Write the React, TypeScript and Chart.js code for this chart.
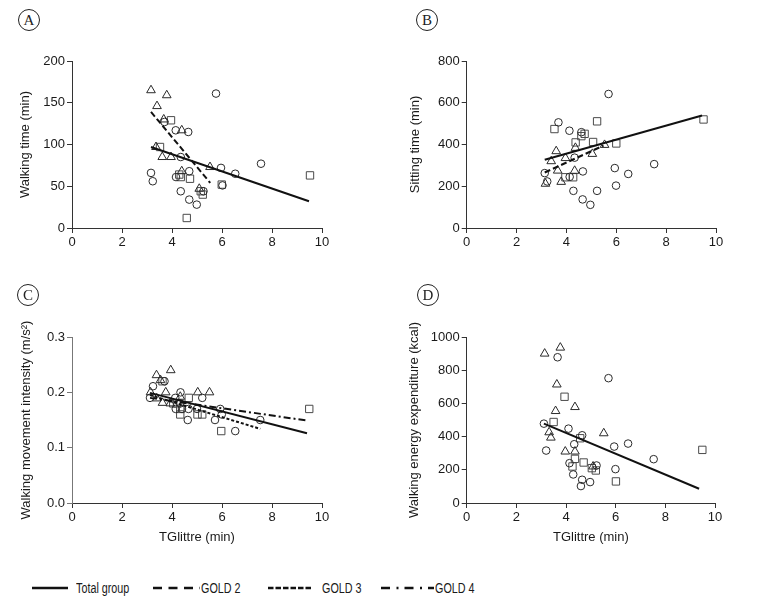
import React, { useEffect, useRef } from "react";
import { Chart, registerables } from "chart.js";

Chart.register(...registerables);

type Pt = [number, number];

// ---------- shared axis values ----------
const xTickValues = [0, 2, 4, 6, 8, 10];
const aTicks = [0, 50, 100, 150, 200];
const bTicks = [0, 200, 400, 600, 800];
const cTicks = [0, 0.1, 0.2, 0.3];
const dTicks = [0, 200, 400, 600, 800, 1000];

const panelLetters = ["A", "B", "C", "D"];
const legendLabels = ["Total group", "GOLD 2", "GOLD 3", "GOLD 4"];
const xAxisTitle = "TGlittre (min)";

// ---------- Panel A: walking time (min) ----------
const aTriangles: Pt[] = [[3.16, 165], [3.79, 159], [3.40, 146], [3.67, 130], [4.39, 117], [3.36, 97], [3.61, 85], [3.96, 85], [4.39, 68], [5.52, 73], [5.09, 47]];
const aCircles: Pt[] = [[3.16, 66], [3.23, 56], [3.70, 127], [4.15, 117], [4.65, 115], [4.35, 85], [4.16, 61], [4.69, 68], [4.35, 44], [4.69, 34], [4.99, 28], [5.76, 161], [5.96, 72], [6.53, 65], [7.56, 77], [6.02, 51], [5.26, 44]];
const aSquares: Pt[] = [[3.96, 129], [3.52, 97], [4.29, 64], [4.35, 61], [4.72, 59], [5.15, 44], [5.23, 40], [5.99, 52], [4.59, 12], [9.52, 63]];
const aTotalLine: Pt[] = [[3.16, 97], [9.48, 32]];
const aGold2Line: Pt[] = [[3.16, 139], [5.53, 54]];

// ---------- Panel B: sitting time (min) ----------
const bTriangles: Pt[] = [[3.16, 212], [3.39, 320], [3.59, 368], [3.65, 275], [3.79, 221], [3.96, 335], [4.36, 384], [4.33, 274], [5.04, 355], [5.53, 398]];
const bCircles: Pt[] = [[3.13, 263], [3.23, 223], [3.68, 506], [4.12, 466], [4.60, 459], [4.33, 337], [4.13, 245], [4.66, 271], [4.28, 178], [4.65, 137], [4.96, 111], [5.69, 642], [5.94, 287], [6.48, 259], [7.52, 306], [5.99, 203], [5.23, 178]];
const bSquares: Pt[] = [[3.52, 474], [5.23, 511], [4.73, 451], [4.60, 440], [4.37, 410], [5.07, 412], [6.00, 405], [3.96, 243], [4.27, 243], [9.50, 520]];
const bTotalLine: Pt[] = [[3.13, 327], [9.44, 539]];
const bGold2Line: Pt[] = [[3.13, 266], [5.49, 395]];

// ---------- Panel C: walking movement intensity (m/s²) ----------
const cTriangles: Pt[] = [[3.38, 0.231], [3.95, 0.240], [3.54, 0.222], [3.14, 0.200], [3.75, 0.200], [3.39, 0.189], [3.62, 0.181], [4.33, 0.192], [5.03, 0.200], [5.50, 0.200], [3.93, 0.180]];
const cCircles: Pt[] = [[3.24, 0.211], [3.12, 0.190], [3.70, 0.220], [4.34, 0.200], [4.13, 0.190], [4.15, 0.170], [4.66, 0.170], [4.63, 0.150], [5.21, 0.190], [5.00, 0.170], [5.93, 0.170], [5.99, 0.160], [5.72, 0.150], [6.53, 0.130], [7.53, 0.150], [4.33, 0.180], [4.40, 0.170]];
const cSquares: Pt[] = [[4.67, 0.190], [4.33, 0.170], [4.33, 0.160], [5.02, 0.160], [5.21, 0.160], [5.97, 0.130], [9.49, 0.170], [3.62, 0.220], [4.20, 0.180], [4.05, 0.180]];
const cTotalLine: Pt[] = [[3.12, 0.199], [9.40, 0.126]];
const cGold3Line: Pt[] = [[3.12, 0.195], [7.53, 0.134]];
const cGold4Line: Pt[] = [[3.12, 0.190], [9.40, 0.149]];

// ---------- Panel D: walking energy expenditure (kcal) ----------
const dTriangles: Pt[] = [[3.14, 900], [3.77, 936], [3.63, 714], [3.58, 554], [4.36, 578], [3.32, 426], [3.39, 394], [3.97, 310], [4.36, 310], [5.52, 420], [5.09, 220]];
const dCircles: Pt[] = [[3.11, 478], [3.20, 316], [3.66, 878], [4.10, 448], [4.65, 408], [4.33, 354], [4.14, 240], [4.29, 172], [4.65, 140], [4.60, 102], [4.97, 126], [5.71, 752], [5.94, 340], [6.50, 358], [7.53, 264], [5.99, 204], [5.23, 226]];
const dSquares: Pt[] = [[3.94, 640], [3.50, 488], [4.57, 390], [4.36, 266], [4.26, 220], [4.71, 244], [5.04, 210], [5.20, 196], [6.01, 130], [9.49, 320]];
const dTotalLine: Pt[] = [[3.11, 478], [9.36, 86]];

const FONT = "'Liberation Sans', Arial, Helvetica, sans-serif";
const DASH_GOLD2 = [6, 3];
const DASH_GOLD3 = [3, 2];
const DASH_GOLD4 = [7, 3, 2, 3];

interface LineSpec { pts: Pt[]; dash: number[] }
interface PanelProps {
  left: number; top: number; width: number; height: number;
  plotLeft: number; plotTop: number; plotRight: number; plotBottom: number;
  yTicks: number[]; yTitle: string; xTitle?: string; decimals?: number;
  yTitlePad: number; xTitlePad: number;
  triangles: Pt[]; circles: Pt[]; squares: Pt[];
  lines: LineSpec[];
  yAxisColor?: string;
}

function Panel(p: PanelProps) {
  const ref = useRef<HTMLCanvasElement>(null);
  useEffect(() => {
    const canvas = ref.current;
    if (!canvas) return;
    const toXY = (arr: Pt[]) => arr.map(([x, y]) => ({ x, y }));
    const pointSet = (arr: Pt[], style: string, radius: number, color: string) => ({
      data: toXY(arr),
      pointStyle: style,
      pointRadius: radius,
      pointHoverRadius: radius,
      pointBorderWidth: 1,
      pointBorderColor: color,
      pointBackgroundColor: "rgba(0,0,0,0)",
      showLine: false,
    });
    const lineSets = p.lines.map((l) => ({
      data: toXY(l.pts),
      showLine: true,
      borderColor: "#111",
      borderWidth: 2,
      borderDash: l.dash,
      pointRadius: 0,
      pointHoverRadius: 0,
      fill: false,
    }));
    const axisColor = "#333";
    const chart = new Chart(canvas, {
      type: "scatter",
      data: {
        datasets: [
          ...lineSets,
          pointSet(p.triangles, "triangle", 5, "#2a2a2a"),
          pointSet(p.circles, "circle", 3.8, "#2a2a2a"),
          pointSet(p.squares, "rect", 5.2, "#4a4a4a"),
        ] as any,
      },
      options: {
        animation: false,
        responsive: false,
        devicePixelRatio: 1,
        events: [],
        layout: {
          padding: {
            left: 0,
            top: p.plotTop - p.top,
            right: p.left + p.width - p.plotRight,
            bottom: 0,
          },
        },
        plugins: { legend: { display: false }, tooltip: { enabled: false } },
        scales: {
          x: {
            type: "linear",
            min: xTickValues[0],
            max: xTickValues[xTickValues.length - 1],
            afterBuildTicks: (s: any) => { s.ticks = xTickValues.map((v) => ({ value: v })); },
            afterFit: (s: any) => { s.height = p.top + p.height - p.plotBottom; },
            ticks: { padding: 2, color: "#1a1a1a", font: { family: FONT, size: 13 } },
            grid: { drawOnChartArea: false, drawTicks: true, tickLength: 5, color: axisColor, lineWidth: 1 },
            border: { display: true, color: axisColor, width: 1 },
            title: {
              display: !!p.xTitle,
              text: p.xTitle || "",
              color: "#1a1a1a",
              font: { family: FONT, size: 13 },
              padding: { top: 0, bottom: p.xTitlePad },
            },
          },
          y: {
            type: "linear",
            min: p.yTicks[0],
            max: p.yTicks[p.yTicks.length - 1],
            afterBuildTicks: (s: any) => { s.ticks = p.yTicks.map((v) => ({ value: v })); },
            afterFit: (s: any) => { s.width = p.plotLeft - p.left; },
            ticks: {
              padding: 2,
              color: "#1a1a1a",
              font: { family: FONT, size: 13 },
              callback: (v: any) => (p.decimals ? Number(v).toFixed(p.decimals) : String(v)),
            },
            grid: { drawOnChartArea: false, drawTicks: true, tickLength: 5, color: p.yAxisColor || axisColor, lineWidth: 1 },
            border: { display: true, color: p.yAxisColor || axisColor, width: 1 },
            title: {
              display: true,
              text: p.yTitle,
              color: "#1a1a1a",
              font: { family: FONT, size: 13 },
              padding: { top: p.yTitlePad, bottom: 0 },
            },
          },
        },
      } as any,
    });
    return () => chart.destroy();
  }, []);
  return (
    <canvas
      ref={ref}
      width={p.width}
      height={p.height}
      style={{ position: "absolute", left: p.left, top: p.top, width: p.width, height: p.height }}
    />
  );
}

function Badge({ letter, cx, cy }: { letter: string; cx: number; cy: number }) {
  return (
    <div
      style={{
        position: "absolute",
        left: cx - 11,
        top: cy - 11,
        width: 22,
        height: 22,
        boxSizing: "border-box",
        border: "1px solid #222",
        borderRadius: "50%",
        display: "flex",
        alignItems: "center",
        justifyContent: "center",
        font: "15px 'Liberation Serif', 'Times New Roman', serif",
        color: "#222",
        lineHeight: 1,
      }}
    >
      {letter}
    </div>
  );
}

export default function App() {
  const legendFont = "14px 'Liberation Sans', Arial, sans-serif";
  const legY = 587.5;
  const legendText = (text: string, x: number) => (
    <div
      key={text}
      style={{
        position: "absolute",
        left: x,
        top: legY - 8,
        height: 16,
        lineHeight: "16px",
        font: legendFont,
        color: "#1a1a1a",
        whiteSpace: "nowrap",
        transform: "scaleX(0.77)",
        transformOrigin: "left center",
      }}
    >
      {text}
    </div>
  );
  return (
    <div
      style={{
        position: "absolute",
        left: 0,
        top: 0,
        width: 769,
        height: 614,
        background: "#fff",
        overflow: "hidden",
      }}
    >
      <Panel
        left={0} top={40} width={345} height={240}
        plotLeft={72} plotTop={61} plotRight={322} plotBottom={228}
        yTicks={aTicks} yTitle="Walking time (min)" yTitlePad={18} xTitlePad={0}
        triangles={aTriangles} circles={aCircles} squares={aSquares}
        lines={[{ pts: aTotalLine, dash: [] }, { pts: aGold2Line, dash: DASH_GOLD2 }]}
      />
      <Panel
        left={380} top={40} width={365} height={240}
        plotLeft={466.7} plotTop={61} plotRight={716} plotBottom={228}
        yTicks={bTicks} yTitle="Sitting time (min)" yTitlePad={28} xTitlePad={0}
        triangles={bTriangles} circles={bCircles} squares={bSquares}
        lines={[{ pts: bTotalLine, dash: [] }, { pts: bGold2Line, dash: DASH_GOLD2 }]}
      />
      <Panel
        left={0} top={300} width={345} height={260}
        plotLeft={72} plotTop={337} plotRight={322} plotBottom={503}
        yTicks={cTicks} decimals={1} yTitle="Walking movement intensity (m/s²)" yTitlePad={19}
        xTitle={xAxisTitle} xTitlePad={15}
        triangles={cTriangles} circles={cCircles} squares={cSquares}
        lines={[
          { pts: cTotalLine, dash: [] },
          { pts: cGold3Line, dash: DASH_GOLD3 },
          { pts: cGold4Line, dash: DASH_GOLD4 },
        ]}
        yAxisColor="#777"
      />
      <Panel
        left={380} top={300} width={365} height={260}
        plotLeft={466.7} plotTop={337} plotRight={715} plotBottom={503}
        yTicks={dTicks} yTitle="Walking energy expenditure (kcal)" yTitlePad={27}
        xTitle={xAxisTitle} xTitlePad={15}
        triangles={dTriangles} circles={dCircles} squares={dSquares}
        lines={[{ pts: dTotalLine, dash: [] }]}
      />

      <Badge letter={panelLetters[0]} cx={29} cy={20} />
      <Badge letter={panelLetters[1]} cx={427} cy={20} />
      <Badge letter={panelLetters[2]} cx={28} cy={295} />
      <Badge letter={panelLetters[3]} cx={428} cy={295} />

      <svg
        width={769}
        height={30}
        style={{ position: "absolute", left: 0, top: legY - 15 }}
      >
        <line x1={32} x2={68} y1={15} y2={15} stroke="#111" strokeWidth={2.5} />
        <line x1={153} x2={200} y1={15} y2={15} stroke="#111" strokeWidth={2.5} strokeDasharray="9 6.5" />
        <line x1={268} x2={312} y1={15} y2={15} stroke="#111" strokeWidth={2.5} strokeDasharray="5.5 2" />
        <line x1={381} x2={434} y1={15} y2={15} stroke="#111" strokeWidth={2.5} strokeDasharray="9 6.5 2 6" />
      </svg>
      {legendText(legendLabels[0], 76)}
      {legendText(legendLabels[1], 201)}
      {legendText(legendLabels[2], 322)}
      {legendText(legendLabels[3], 435)}
    </div>
  );
}
